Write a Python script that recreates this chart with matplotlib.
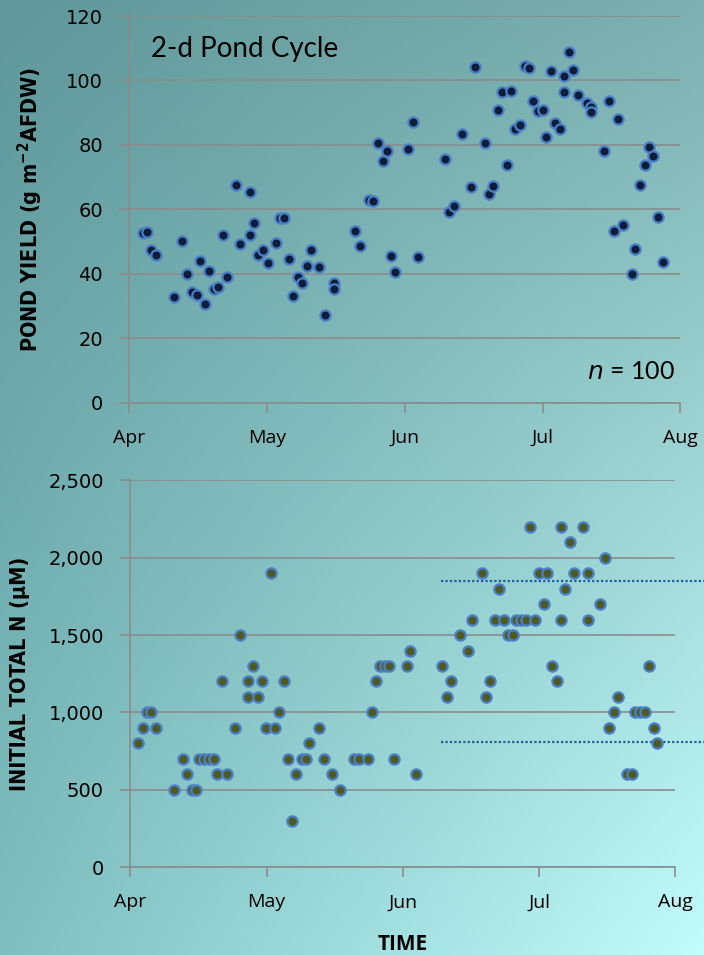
import numpy as np
import matplotlib
matplotlib.use("Agg")
import matplotlib.pyplot as plt
from matplotlib.colors import to_rgb

# ── data (x = days after Apr 1) ──
month_labels = ["Apr", "May", "Jun", "Jul", "Aug"]
month_pos = [0, 30.5, 61, 91.5, 122]

yield_day = [3.0, 3.9, 4.8, 5.9, 9.8, 11.7, 12.8, 13.8, 14.9, 15.7,
             16.8, 17.7, 18.8, 19.6, 21.6, 20.7, 23.6, 24.6, 26.7, 26.7,
             27.5, 28.5, 29.5, 30.6, 32.4, 33.4, 34.3, 35.4, 36.3, 37.4,
             38.2, 39.3, 40.3, 42.1, 43.3, 45.3, 45.3, 50.0, 51.1, 53.1,
             54.0, 55.0, 56.1, 57.1, 57.9, 58.9, 61.6, 62.9, 64.0, 69.8,
             70.8, 71.8, 73.7, 75.7, 76.6, 78.7, 79.7, 80.6, 81.6, 82.5,
             84.5, 83.6, 85.4, 86.5, 87.6, 88.4, 89.4, 90.4, 91.5, 92.3,
             93.4, 94.3, 95.4, 96.2, 96.3, 97.4, 98.3, 99.4, 101.4, 102.2,
             102.2, 105.2, 106.2, 107.3, 108.1, 109.2, 111.2, 112.0, 113.1, 114.1,
             115.1, 116.0, 117.0, 118.1]
yield_val = [52.8, 53.1, 47.3, 45.7, 32.8, 50.1, 40.1, 34.3, 33.3, 44.0,
             30.6, 40.8, 35.2, 35.9, 39.1, 52.2, 67.6, 49.4, 65.4, 52.1,
             55.9, 45.7, 47.4, 43.4, 49.7, 57.4, 57.4, 44.6, 33.0, 38.9,
             37.3, 42.3, 47.4, 42.1, 27.1, 37.1, 35.3, 53.3, 48.6, 62.9,
             62.5, 80.6, 74.9, 78.0, 45.5, 40.5, 78.6, 87.0, 45.2, 75.7,
             59.1, 61.2, 83.5, 67.0, 104.2, 80.6, 64.9, 67.3, 90.9, 96.3,
             96.7, 73.7, 84.8, 86.2, 104.5, 103.9, 93.5, 90.5, 90.9, 82.4,
             103.1, 86.7, 85.0, 101.3, 96.3, 108.8, 103.3, 95.4, 92.9, 91.9,
             90.1, 78.0, 93.5, 53.3, 88.2, 55.3, 40.1, 47.6, 67.6, 73.9,
             79.3, 76.5, 57.6, 43.6]

tn_day = [1.8, 2.8, 3.8, 4.7, 5.7, 9.7, 11.7, 12.7, 13.7, 14.8,
          15.4, 16.6, 17.7, 18.8, 19.5, 21.6, 20.6, 23.4, 24.5, 26.4,
          29.5, 27.4, 26.4, 28.5, 30.3, 32.5, 31.4, 33.3, 34.3, 35.4,
          36.3, 37.2, 38.4, 39.4, 40.1, 42.2, 43.3, 45.1, 46.9, 50.1,
          51.1, 53.1, 54.2, 54.9, 56.0, 57.0, 57.9, 59.0, 61.9, 62.7,
          64.0, 69.8, 70.8, 71.9, 73.7, 75.6, 76.6, 78.7, 79.6, 80.6,
          81.6, 83.7, 82.5, 84.6, 85.7, 86.3, 87.5, 88.6, 90.5, 89.4,
          91.4, 93.3, 92.5, 94.4, 95.5, 96.5, 96.5, 97.4, 98.4, 99.4,
          102.4, 101.3, 102.4, 105.2, 106.3, 107.2, 108.2, 109.2, 111.1, 112.2,
          113.0, 114.1, 115.2, 116.1, 117.2, 118.0]
tn_val = [800, 900, 1000, 1000, 900, 500, 700, 600, 500, 500,
          700, 700, 700, 700, 600, 600, 1200, 900, 1500, 1200,
          1200, 1300, 1100, 1100, 900, 900, 1900, 1000, 1200, 700,
          300, 600, 700, 700, 800, 900, 700, 600, 500, 700,
          700, 700, 1000, 1200, 1300, 1300, 1300, 700, 1300, 1400,
          600, 1300, 1100, 1200, 1500, 1400, 1600, 1900, 1100, 1200,
          1600, 1600, 1800, 1500, 1500, 1600, 1600, 1600, 1600, 2200,
          1900, 1900, 1700, 1300, 1200, 2200, 1600, 1800, 2100, 1900,
          1900, 2200, 1600, 1700, 2000, 900, 1000, 1100, 600, 600,
          1000, 1000, 1000, 1300, 900, 800]

# dotted reference lines in lower panel
ref_levels = [1850, 810]
ref_start = 69.6
ref_end = 128.4

# ── colours ──
GRID = "#8c8c8c"
EDGE = "#4a80c6"
FACE_TOP = "#0f1d3a"
FACE_BOT = "#4e5a22"
DOT_LINE = "#1f5c9c"

fig = plt.figure(figsize=(7.04, 9.55), dpi=100)

# gradient background (bilinear between the four corners)
bg = fig.add_axes([0, 0, 1, 1], zorder=-10)
tl, tr = np.array(to_rgb("#5f979a")), np.array(to_rgb("#7db0b0"))
bl, br = np.array(to_rgb("#7fbfc0")), np.array(to_rgb("#c2fcfc"))
u = np.linspace(0, 1, 200)[None, :, None]
v = np.linspace(0, 1, 260)[:, None, None]
img = (1 - v) * ((1 - u) * tl + u * tr) + v * ((1 - u) * bl + u * br)
bg.imshow(img, aspect="auto", extent=[0, 1, 0, 1], origin="upper")
bg.axis("off")


def style_axes(ax, ymax, step, fmt):
    ax.set_facecolor("none")
    ax.set_xlim(0, 122)
    ax.set_ylim(0, ymax)
    ax.set_yticks(np.arange(0, ymax + 1, step))
    ax.set_yticklabels([fmt(v) for v in np.arange(0, ymax + 1, step)],
                       fontsize=14, family="DejaVu Sans")
    ax.set_xticks(month_pos)
    ax.set_xticklabels(month_labels, fontsize=14, family="Open Sans")
    ax.grid(True, axis="y", color=GRID, linewidth=1.2)
    ax.set_axisbelow(True)
    for s in ["top", "right"]:
        ax.spines[s].set_visible(False)
    for s in ["left", "bottom"]:
        ax.spines[s].set_color(GRID)
        ax.spines[s].set_linewidth(1.2)
    ax.tick_params(axis="both", direction="out", length=7, width=1.2,
                   color=GRID, labelcolor="black")
    ax.tick_params(axis="y", pad=12)
    ax.tick_params(axis="x", pad=12)


LABEL_FONT = dict(fontsize=15.5, fontweight="bold", family="DejaVu Sans",
                  fontstretch="condensed")

# ── top panel: pond yield ──
ax1 = fig.add_axes([0.1837, 0.5783, 0.7827, 0.4049])
style_axes(ax1, 120, 20, lambda v: f"{v:.0f}")
ax1.scatter(yield_day, yield_val, s=55, facecolor=FACE_TOP, edgecolor=EDGE,
            linewidths=1.6, zorder=3, clip_on=False)
ax1.set_ylabel("POND YIELD (g m$^{\\mathregular{-2}}$AFDW)", labelpad=15,
               **LABEL_FONT)
ax1.text(0.04, 0.915, "2-d Pond Cycle", transform=ax1.transAxes,
         fontsize=20, family="Lato", va="center", ha="left")
ax1.text(0.99, 0.08, "$\\it{n}$ = 100", transform=ax1.transAxes,
         fontsize=18, family="Lato", va="center", ha="right")

# ── bottom panel: initial total N ──
ax2 = fig.add_axes([0.1851, 0.0921, 0.7741, 0.4049])
style_axes(ax2, 2500, 500, lambda v: f"{v:,.0f}")
ax2.scatter(tn_day, tn_val, s=55, facecolor=FACE_BOT, edgecolor=EDGE,
            linewidths=1.6, zorder=3, clip_on=False)
for lvl in ref_levels:
    ax2.plot([ref_start, ref_end], [lvl, lvl], color=DOT_LINE,
             linestyle=(0, (1, 1.0)), linewidth=1.6, clip_on=False, zorder=2)
ax2.set_ylabel("INITIAL TOTAL N (µM)", labelpad=13, **LABEL_FONT)
ax2.set_xlabel("TIME", fontsize=15, fontweight="bold", family="Open Sans",
               labelpad=16)

plt.savefig("out.png", dpi=100)
